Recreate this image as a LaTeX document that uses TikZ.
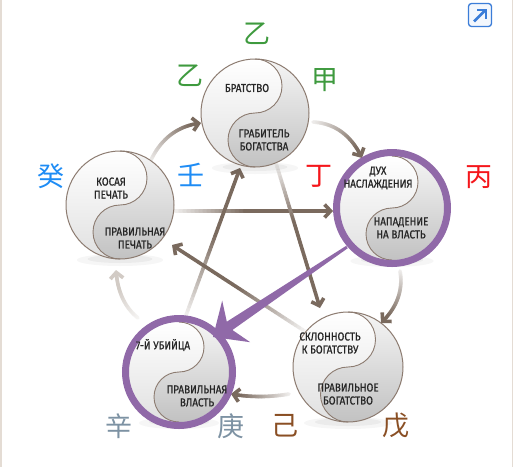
\documentclass[tikz,border=0pt]{standalone}
\usepackage{fontspec}
\setmainfont{Fira Sans}
\newfontfamily\cyr[FakeStretch=0.86,FakeBold=0.9]{Fira Sans}
\newfontfamily\cjk{Noto Sans CJK SC}
\usetikzlibrary{arrows.meta,calc}
\definecolor{arrowc}{HTML}{7A6A5E}
\definecolor{arrowl}{HTML}{D2CBC5}
\definecolor{rim}{HTML}{8C7B70}
\definecolor{purp}{HTML}{9069A8}
\definecolor{cgreen}{HTML}{3E9A3E}
\definecolor{cblue}{HTML}{1E8CF5}
\definecolor{cred}{HTML}{F5161B}
\definecolor{cslate}{HTML}{7D92A3}
\definecolor{cbrown}{HTML}{8A4F24}
\definecolor{iconb}{HTML}{3B7DD8}
\definecolor{edge}{HTML}{E4DCD4}
\tikzset{
  lbl/.style={font=\cyr\fontsize{11.5}{13}\selectfont, text=black!85, align=center, inner sep=0pt},
  han/.style={font=\cjk\fontsize{27}{27}\selectfont, inner sep=0pt},
  tipc/.style={-{Straight Barb[length=6pt,width=13pt]}},
}
% gradient arrow along quadratic curve: tail, control, tip, full-at, start tint, colour
\newcommand\gradarrow[6]{%
  \foreach \i in {0,...,35}{%
    \pgfmathsetmacro\ta{0.9*\i/36}%
    \pgfmathsetmacro\tb{0.9*(\i+1)/36}%
    \pgfmathtruncatemacro\pc{min(100,#5+(100-#5)*\ta/#4)}%
    \path ($(#1)!\ta!(#2)$) coordinate (ga) ($(#2)!\ta!(#3)$) coordinate (gb)
          ($(#1)!\tb!(#2)$) coordinate (gc) ($(#2)!\tb!(#3)$) coordinate (gd);
    \draw[line width=3.6pt, line cap=round, draw=#6!\pc!white] ($(ga)!\ta!(gb)$) -- ($(gc)!\tb!(gd)$);
  }%
  \path ($(#1)!0.9!(#2)$) coordinate (ga) ($(#2)!0.9!(#3)$) coordinate (gb) ($(ga)!0.9!(gb)$) coordinate (ge);
  \draw[line width=3.6pt, draw=#6, tipc] (ge) -- (#3);
}
% yin-yang disc: name, x, y, radius
\newcommand\yinyang[4]{%
  \coordinate (#1) at (#2,#3);
  \begin{scope}[shift={(#1)}]
    \fill[black,opacity=0.035] (0,#4+1) ellipse ({0.8*#4} and 6);
    \fill[black,opacity=0.045] (0,#4) ellipse ({0.6*#4} and 4);
    \shade[top color=white, bottom color=black!12] (0,0) circle (#4);
    \shade[top color=black!4, bottom color=black!24]
      (0,-#4) arc[start angle=-90,end angle=90,radius=#4]
      arc[start angle=90,end angle=270,radius=#4/2]
      arc[start angle=90,end angle=-90,radius=#4/2] -- cycle;
    \draw[rim, line width=0.9pt] (0,-#4) arc[start angle=-90,end angle=90,radius=#4/2]
      arc[start angle=-90,end angle=-270,radius=#4/2];
  \end{scope}
}
\begin{document}
\begin{tikzpicture}[x=1pt,y=-1pt]
\useasboundingbox (0,0) rectangle (514,467);
\fill[white] (0,0) rectangle (514,467);
\draw[edge, line width=1.5pt] (0.8,0) -- (0.8,467);
\draw[edge, line width=1.5pt] (512.5,0) -- (512.5,467);

% icon
\draw[iconb, line width=1.3pt, rounded corners=3pt, fill=iconb!6] (468.5,3.5) rectangle (491.5,26.5);
\draw[iconb, line width=2.6pt] (474,21.5) -- (485,10.5);
\draw[iconb, line width=2.6pt] (477,10) -- (486,10) -- (486,19);

% connector end points
\coordinate (a1t) at (150,162); \coordinate (a1c) at (166,127); \coordinate (a1h) at (201,123);
\coordinate (a2t) at (313,122); \coordinate (a2c) at (346,124); \coordinate (a2h) at (362,158);
\coordinate (a3t) at (400,271); \coordinate (a3c) at (405,300); \coordinate (a3h) at (381,323);
\coordinate (a4t) at (289,394); \coordinate (a4c) at (260,399); \coordinate (a4h) at (231,394);
\coordinate (a5t) at (138,318); \coordinate (a5c) at (118,302); \coordinate (a5h) at (116,270);
\coordinate (s1t) at (172,211); \coordinate (s1h) at (333,211);
\coordinate (s2t) at (185,318); \coordinate (s2h) at (240,168);
\coordinate (s3t) at (276,163); \coordinate (s3h) at (320,308);
\coordinate (s4t) at (306,332); \coordinate (s4h) at (172,245);
\coordinate (s1c) at ($(s1t)!0.5!(s1h)$);
\coordinate (s2c) at ($(s2t)!0.5!(s2h)$);
\coordinate (s3c) at ($(s3t)!0.5!(s3h)$);
\coordinate (s4c) at ($(s4t)!0.5!(s4h)$);

% star connectors
\gradarrow{s1t}{s1c}{s1h}{0.45}{8}{arrowc}
\gradarrow{s2t}{s2c}{s2h}{0.55}{8}{arrowc}
\gradarrow{s3t}{s3c}{s3h}{0.4}{8}{arrowc}
\gradarrow{s4t}{s4c}{s4h}{0.5}{8}{arrowc}
% outer connectors
\gradarrow{a1t}{a1c}{a1h}{0.85}{12}{arrowc}
\gradarrow{a2t}{a2c}{a2h}{0.85}{12}{arrowc}
\gradarrow{a3t}{a3c}{a3h}{0.85}{12}{arrowc}
\gradarrow{a4t}{a4c}{a4h}{0.85}{12}{arrowc}
\gradarrow{a5t}{a5c}{a5h}{0.7}{20}{arrowl}

% discs
\yinyang{wood}{255}{113}{54}
\draw[rim, line width=1pt] (wood) circle (54);
\yinyang{water}{120}{205}{54}
\draw[rim, line width=1pt] (water) circle (54);
\yinyang{earth}{348}{367}{55}
\draw[rim, line width=1pt] (earth) circle (55);
\yinyang{fire}{392}{208}{52}
\draw[purp, line width=7pt] (fire) circle (55.5);
\yinyang{metal}{179}{372}{50}
\draw[purp, line width=7pt] (metal) circle (53.5);

% labels
\node[lbl] (t1) at (247,88) {БРАТСТВО};
\node[lbl] (t2) at (264,140) {ГРАБИТЕЛЬ\\БОГАТСТВА};
\node[lbl] (t3) at (111,188) {КОСАЯ\\ПЕЧАТЬ};
\node[lbl] (t4) at (135,238) {ПРАВИЛЬНАЯ\\ПЕЧАТЬ};
\node[lbl] (t5) at (378,178) {ДУХ\\НАСЛАЖДЕНИЯ};
\node[lbl] (t6) at (401,228) {НАПАДЕНИЕ\\НА ВЛАСТЬ};
\node[lbl] (t7) at (163,345) {7-Й УБИЙЦА};
\node[lbl] (t8) at (197,396) {ПРАВИЛЬНАЯ\\ВЛАСТЬ};
\node[lbl] (t9) at (330,343) {СКЛОННОСТЬ\\К БОГАТСТВУ};
\node[lbl] (t10) at (348,394) {ПРАВИЛЬНОЕ\\БОГАТСТВО};

% stems
\node[han, text=cgreen] (h1) at (257,34) {乙};
\node[han, text=cgreen] (h2) at (190,76) {乙};
\node[han, text=cgreen] (h3) at (325,80) {甲};
\node[han, text=cblue] (h4) at (51,176) {癸};
\node[han, text=cblue] (h5) at (191,175) {壬};
\node[han, text=cred] (h6) at (319,176) {丁};
\node[han, text=cred] (h7) at (479,177) {丙};
\node[han, text=cslate] (h8) at (119,426) {辛};
\node[han, text=cslate] (h9) at (231,426) {庚};
\node[han, text=cbrown] (h10) at (285,426) {己};
\node[han, text=cbrown] (h11) at (396,426) {戊};

% purple arrow fire -> metal
\coordinate (pt) at (213,337);
\fill[purp] (pt) -- (222.2,300.6) -- (226.8,321.7) -- (346.2,245.8) -- (347.8,248.2)
  -- (232.4,330) -- (250.2,342.2) -- cycle;
\end{tikzpicture}
\end{document}
